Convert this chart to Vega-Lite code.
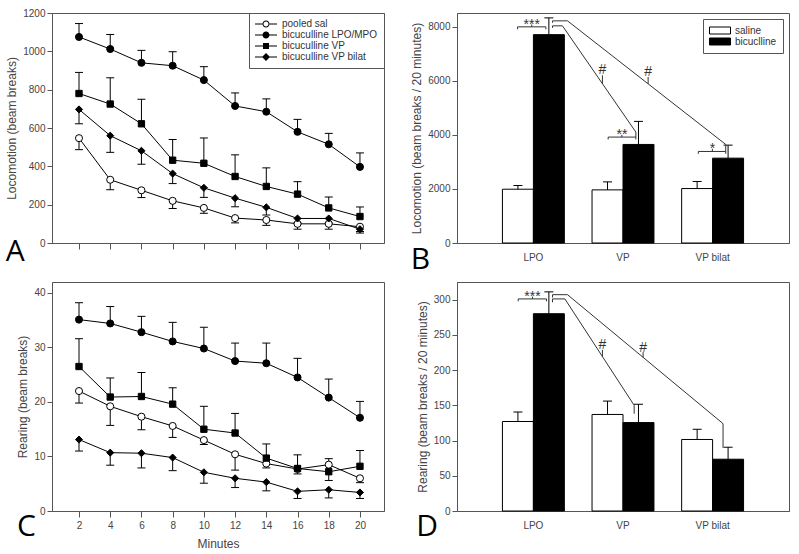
{
  "$schema": "https://vega.github.io/schema/vega-lite/v6.json",
  "background": "white",
  "padding": {"left": 5, "top": 7, "right": 5, "bottom": 0},
  "columns": 2,
  "spacing": {"row": 5, "column": 25},
  "resolve": {"scale": {"fill": "independent", "shape": "independent"}, "legend": {"fill": "independent", "shape": "independent"}},
  "datasets": {
    "loco": [
      {"minute": 2, "series": "pooled sal", "value": 547, "err": 487},
      {"minute": 4, "series": "pooled sal", "value": 330, "err": 278},
      {"minute": 6, "series": "pooled sal", "value": 275, "err": 237},
      {"minute": 8, "series": "pooled sal", "value": 220, "err": 180},
      {"minute": 10, "series": "pooled sal", "value": 183, "err": 155},
      {"minute": 12, "series": "pooled sal", "value": 130, "err": 105},
      {"minute": 14, "series": "pooled sal", "value": 120, "err": 92},
      {"minute": 16, "series": "pooled sal", "value": 100, "err": 72},
      {"minute": 18, "series": "pooled sal", "value": 100, "err": 72},
      {"minute": 20, "series": "pooled sal", "value": 85, "err": 60},
      {"minute": 2, "series": "bicuculline LPO/MPO", "value": 1075, "err": 1145},
      {"minute": 4, "series": "bicuculline LPO/MPO", "value": 1012, "err": 1088},
      {"minute": 6, "series": "bicuculline LPO/MPO", "value": 940, "err": 1005},
      {"minute": 8, "series": "bicuculline LPO/MPO", "value": 925, "err": 998},
      {"minute": 10, "series": "bicuculline LPO/MPO", "value": 850, "err": 920},
      {"minute": 12, "series": "bicuculline LPO/MPO", "value": 715, "err": 783},
      {"minute": 14, "series": "bicuculline LPO/MPO", "value": 685, "err": 752},
      {"minute": 16, "series": "bicuculline LPO/MPO", "value": 580, "err": 645},
      {"minute": 18, "series": "bicuculline LPO/MPO", "value": 515, "err": 572},
      {"minute": 20, "series": "bicuculline LPO/MPO", "value": 397, "err": 470},
      {"minute": 2, "series": "bicuculline VP", "value": 780, "err": 890},
      {"minute": 4, "series": "bicuculline VP", "value": 725, "err": 862},
      {"minute": 6, "series": "bicuculline VP", "value": 622, "err": 750},
      {"minute": 8, "series": "bicuculline VP", "value": 432, "err": 540},
      {"minute": 10, "series": "bicuculline VP", "value": 416, "err": 548},
      {"minute": 12, "series": "bicuculline VP", "value": 347, "err": 460},
      {"minute": 14, "series": "bicuculline VP", "value": 295, "err": 392},
      {"minute": 16, "series": "bicuculline VP", "value": 255, "err": 320},
      {"minute": 18, "series": "bicuculline VP", "value": 183, "err": 240},
      {"minute": 20, "series": "bicuculline VP", "value": 138, "err": 188},
      {"minute": 2, "series": "bicuculline VP bilat", "value": 697, "err": 622},
      {"minute": 4, "series": "bicuculline VP bilat", "value": 560, "err": 473},
      {"minute": 6, "series": "bicuculline VP bilat", "value": 481, "err": 411},
      {"minute": 8, "series": "bicuculline VP bilat", "value": 362, "err": 310},
      {"minute": 10, "series": "bicuculline VP bilat", "value": 288, "err": 238},
      {"minute": 12, "series": "bicuculline VP bilat", "value": 234, "err": 189},
      {"minute": 14, "series": "bicuculline VP bilat", "value": 186, "err": 146},
      {"minute": 16, "series": "bicuculline VP bilat", "value": 128, "err": 105},
      {"minute": 18, "series": "bicuculline VP bilat", "value": 128, "err": 105},
      {"minute": 20, "series": "bicuculline VP bilat", "value": 72, "err": 52}
    ],
    "rear": [
      {"minute": 2, "series": "pooled sal", "value": 22.0, "err": 19.8},
      {"minute": 4, "series": "pooled sal", "value": 19.2, "err": 15.7},
      {"minute": 6, "series": "pooled sal", "value": 17.3, "err": 14.9},
      {"minute": 8, "series": "pooled sal", "value": 15.6, "err": 13.5},
      {"minute": 10, "series": "pooled sal", "value": 13.0, "err": 12.2},
      {"minute": 12, "series": "pooled sal", "value": 10.4, "err": 7.5},
      {"minute": 14, "series": "pooled sal", "value": 8.7, "err": 7.9},
      {"minute": 16, "series": "pooled sal", "value": 7.7, "err": 6.8},
      {"minute": 18, "series": "pooled sal", "value": 8.5, "err": 5.6},
      {"minute": 20, "series": "pooled sal", "value": 6.0, "err": 5.2},
      {"minute": 2, "series": "bicuculline LPO/MPO", "value": 35.1, "err": 38.2},
      {"minute": 4, "series": "bicuculline LPO/MPO", "value": 34.4, "err": 37.5},
      {"minute": 6, "series": "bicuculline LPO/MPO", "value": 32.8, "err": 35.7},
      {"minute": 8, "series": "bicuculline LPO/MPO", "value": 31.1, "err": 34.6},
      {"minute": 10, "series": "bicuculline LPO/MPO", "value": 29.8, "err": 33.7},
      {"minute": 12, "series": "bicuculline LPO/MPO", "value": 27.5, "err": 30.8},
      {"minute": 14, "series": "bicuculline LPO/MPO", "value": 27.1, "err": 30.8},
      {"minute": 16, "series": "bicuculline LPO/MPO", "value": 24.5, "err": 28.0},
      {"minute": 18, "series": "bicuculline LPO/MPO", "value": 20.8, "err": 24.2},
      {"minute": 20, "series": "bicuculline LPO/MPO", "value": 17.1, "err": 20.1},
      {"minute": 2, "series": "bicuculline VP", "value": 26.5, "err": 31.6},
      {"minute": 4, "series": "bicuculline VP", "value": 20.9, "err": 24.4},
      {"minute": 6, "series": "bicuculline VP", "value": 21.0, "err": 25.4},
      {"minute": 8, "series": "bicuculline VP", "value": 19.6, "err": 22.6},
      {"minute": 10, "series": "bicuculline VP", "value": 15.0, "err": 19.2},
      {"minute": 12, "series": "bicuculline VP", "value": 14.3, "err": 17.9},
      {"minute": 14, "series": "bicuculline VP", "value": 9.7, "err": 12.3},
      {"minute": 16, "series": "bicuculline VP", "value": 7.8, "err": 10.3},
      {"minute": 18, "series": "bicuculline VP", "value": 7.2, "err": 9.6},
      {"minute": 20, "series": "bicuculline VP", "value": 8.2, "err": 11.1},
      {"minute": 2, "series": "bicuculline VP bilat", "value": 13.1, "err": 11.0},
      {"minute": 4, "series": "bicuculline VP bilat", "value": 10.7, "err": 8.4},
      {"minute": 6, "series": "bicuculline VP bilat", "value": 10.6, "err": 7.9},
      {"minute": 8, "series": "bicuculline VP bilat", "value": 9.8, "err": 7.4},
      {"minute": 10, "series": "bicuculline VP bilat", "value": 7.1, "err": 5.1},
      {"minute": 12, "series": "bicuculline VP bilat", "value": 6.0, "err": 4.3},
      {"minute": 14, "series": "bicuculline VP bilat", "value": 5.3, "err": 3.7},
      {"minute": 16, "series": "bicuculline VP bilat", "value": 3.6, "err": 2.3},
      {"minute": 18, "series": "bicuculline VP bilat", "value": 3.9, "err": 2.4},
      {"minute": 20, "series": "bicuculline VP bilat", "value": 3.4, "err": 2.3}
    ],
    "locoBars": [
      {"region": "LPO", "treatment": "saline", "mean": 1988, "err": 2123},
      {"region": "LPO", "treatment": "bicuclline", "mean": 7700, "err": 8320},
      {"region": "VP", "treatment": "saline", "mean": 1963, "err": 2259},
      {"region": "VP", "treatment": "bicuclline", "mean": 3642, "err": 4494},
      {"region": "VP bilat", "treatment": "saline", "mean": 2012, "err": 2272},
      {"region": "VP bilat", "treatment": "bicuclline", "mean": 3136, "err": 3617}
    ],
    "rearBars": [
      {"region": "LPO", "treatment": "saline", "mean": 127, "err": 140.5},
      {"region": "LPO", "treatment": "bicuclline", "mean": 280, "err": 311},
      {"region": "VP", "treatment": "saline", "mean": 137, "err": 156},
      {"region": "VP", "treatment": "bicuclline", "mean": 125.5, "err": 151.5},
      {"region": "VP bilat", "treatment": "saline", "mean": 101.5, "err": 116},
      {"region": "VP bilat", "treatment": "bicuclline", "mean": 73.5, "err": 90.5}
    ],
    "annB": [
      {"u1": 0.822, "v1": 7988, "u2": 1.138, "v2": 7988},
      {"u1": 0.822, "v1": 7988, "u2": 0.822, "v2": 7900},
      {"u1": 1.138, "v1": 7988, "u2": 1.138, "v2": 7900},
      {"u1": 0.98, "v1": 7988, "u2": 0.98, "v2": 8074},
      {"u1": 1.212, "v1": 8025, "u2": 1.212, "v2": 7950},
      {"u1": 1.212, "v1": 8025, "u2": 1.323, "v2": 8025},
      {"u1": 1.323, "v1": 8025, "u2": 2.142, "v2": 4099},
      {"u1": 2.142, "v1": 4099, "u2": 2.142, "v2": 3827},
      {"u1": 1.833, "v1": 3914, "u2": 2.142, "v2": 3914},
      {"u1": 1.833, "v1": 3914, "u2": 1.833, "v2": 3827},
      {"u1": 1.986, "v1": 3914, "u2": 1.986, "v2": 4000},
      {"u1": 1.212, "v1": 8210, "u2": 1.212, "v2": 8140},
      {"u1": 1.212, "v1": 8210, "u2": 1.379, "v2": 8210},
      {"u1": 1.379, "v1": 8210, "u2": 3.145, "v2": 3642},
      {"u1": 3.145, "v1": 3642, "u2": 3.145, "v2": 3296},
      {"u1": 2.839, "v1": 3383, "u2": 3.145, "v2": 3383},
      {"u1": 2.839, "v1": 3383, "u2": 2.839, "v2": 3296},
      {"u1": 2.996, "v1": 3383, "u2": 2.996, "v2": 3481},
      {"u1": 1.769, "v1": 5887, "u2": 1.769, "v2": 6198},
      {"u1": 2.279, "v1": 5883, "u2": 2.279, "v2": 6136}
    ],
    "annBText": [
      {"u": 0.98, "v": 7910, "label": "***"},
      {"u": 1.986, "v": 3860, "label": "**"},
      {"u": 2.996, "v": 3330, "label": "*"},
      {"u": 1.769, "v": 6241, "label": "#"},
      {"u": 2.279, "v": 6180, "label": "#"}
    ],
    "annD": [
      {"u1": 0.829, "v1": 301, "u2": 1.145, "v2": 301},
      {"u1": 0.829, "v1": 301, "u2": 0.829, "v2": 297.6},
      {"u1": 1.145, "v1": 301, "u2": 1.145, "v2": 297.6},
      {"u1": 0.989, "v1": 301, "u2": 0.989, "v2": 304.2},
      {"u1": 1.212, "v1": 301, "u2": 1.212, "v2": 296.2},
      {"u1": 1.212, "v1": 301, "u2": 1.35, "v2": 301},
      {"u1": 1.35, "v1": 301, "u2": 2.123, "v2": 150},
      {"u1": 2.123, "v1": 150, "u2": 2.123, "v2": 138},
      {"u1": 1.212, "v1": 307, "u2": 1.212, "v2": 303},
      {"u1": 1.212, "v1": 307, "u2": 1.379, "v2": 307},
      {"u1": 1.379, "v1": 307, "u2": 3.115, "v2": 124},
      {"u1": 3.115, "v1": 124, "u2": 3.115, "v2": 89.6},
      {"u1": 1.769, "v1": 219, "u2": 1.769, "v2": 228.8},
      {"u1": 2.223, "v1": 218, "u2": 2.223, "v2": 225.5}
    ],
    "annDText": [
      {"u": 0.989, "v": 297.7, "label": "***"},
      {"u": 1.769, "v": 229.6, "label": "#"},
      {"u": 2.223, "v": 225.2, "label": "#"}
    ]
  },
  "concat": [
    {
      "width": 332, "height": 230,
      "title": {"text": "A", "orient": "bottom", "anchor": "start", "frame": "bounds", "font": "Open Sans", "fontSize": 30, "fontWeight": "normal", "color": "black", "offset": 0, "dy": -13},
      "data": {"name": "loco"},
      "layer": [
        {"mark": {"type": "rule", "color": "black", "strokeWidth": 1},
         "encoding": {
           "x": {"field": "minute", "type": "quantitative", "scale": {"domain": [0.27, 21.54], "nice": false, "zero": false}, "axis": {"values": [2, 4, 6, 8, 10, 12, 14, 16, 18, 20], "tickCount": 20, "labels": false, "title": null, "tickSize": 6}},
           "y": {"field": "value", "type": "quantitative", "scale": {"domain": [0, 1200], "nice": false}, "axis": {"values": [0, 200, 400, 600, 800, 1000, 1200], "tickCount": 20, "format": "d", "title": "Locomotion (beam breaks)"}},
           "y2": {"field": "err"}}},
        {"mark": {"type": "tick", "orient": "horizontal", "color": "black", "size": 8, "thickness": 1, "opacity": 1},
         "encoding": {"x": {"field": "minute", "type": "quantitative"}, "y": {"field": "err", "type": "quantitative"}}},
        {"mark": {"type": "line", "color": "black", "strokeWidth": 1},
         "encoding": {"x": {"field": "minute", "type": "quantitative"}, "y": {"field": "value", "type": "quantitative"}, "detail": {"field": "series"}}},
        {"transform": [{"filter": "datum.series == 'pooled sal'"}],
         "mark": {"type": "point", "shape": "circle", "filled": true, "fill": "white", "stroke": "black", "strokeWidth": 1, "opacity": 1, "size": 50},
         "encoding": {"x": {"field": "minute", "type": "quantitative"}, "y": {"field": "value", "type": "quantitative"}}},
        {"transform": [{"filter": "datum.series == 'bicuculline LPO/MPO'"}],
         "mark": {"type": "point", "shape": "circle", "filled": true, "fill": "black", "stroke": "black", "strokeWidth": 1, "opacity": 1, "size": 50},
         "encoding": {"x": {"field": "minute", "type": "quantitative"}, "y": {"field": "value", "type": "quantitative"}}},
        {"transform": [{"filter": "datum.series == 'bicuculline VP'"}],
         "mark": {"type": "point", "shape": "square", "filled": true, "fill": "black", "stroke": "black", "strokeWidth": 1, "opacity": 1, "size": 40},
         "encoding": {"x": {"field": "minute", "type": "quantitative"}, "y": {"field": "value", "type": "quantitative"}}},
        {"transform": [{"filter": "datum.series == 'bicuculline VP bilat'"}],
         "mark": {"type": "point", "shape": "diamond", "filled": true, "fill": "black", "stroke": "black", "strokeWidth": 1, "opacity": 1, "size": 50},
         "encoding": {"x": {"field": "minute", "type": "quantitative"}, "y": {"field": "value", "type": "quantitative"}}},
        {"transform": [{"filter": "datum.series == 'none'"}],
         "mark": {"type": "point", "filled": true, "color": "black", "opacity": 1, "size": 100},
         "encoding": {
           "shape": {"field": "series", "type": "nominal", "scale": {"domain": ["pooled sal", "bicuculline LPO/MPO", "bicuculline VP", "bicuculline VP bilat"], "range": [
             "M-1,-0.1H0.5V0.1H-1Z M1.9,-0.1H3.4V0.1H1.9Z M0.5,0A0.7,0.7 0 1,1 1.9,0A0.7,0.7 0 1,1 0.5,0Z M0.7,0A0.5,0.5 0 1,0 1.7,0A0.5,0.5 0 1,0 0.7,0Z",
             "M-1,-0.1H3.4V0.1H-1Z M0.5,0A0.7,0.7 0 1,1 1.9,0A0.7,0.7 0 1,1 0.5,0Z",
             "M-1,-0.1H3.4V0.1H-1Z M0.6,-0.6H1.8V0.6H0.6Z",
             "M-1,-0.1H3.4V0.1H-1Z M1.2,-0.8L2,0L1.2,0.8L0.4,0Z"]},
             "legend": {"title": null, "orient": "top-right", "offset": 0, "padding": 6, "strokeColor": "#555", "fillColor": "white", "labelOffset": 17, "rowPadding": 1, "labelFontSize": 10, "labelColor": "#333", "labelFont": "Liberation Sans", "symbolFillColor": "black", "symbolStrokeWidth": 0, "symbolOpacity": 1}}}}
      ]
    },
    {
      "width": 332, "height": 230,
      "title": {"text": "B", "orient": "bottom", "anchor": "start", "frame": "bounds", "font": "Open Sans", "fontSize": 30, "fontWeight": "normal", "color": "black", "offset": 0, "dy": -17},
      "layer": [
        {"data": {"name": "locoBars"},
         "mark": {"type": "bar", "stroke": "black", "strokeWidth": 1},
         "encoding": {
           "x": {"field": "region", "type": "nominal", "sort": ["LPO", "VP", "VP bilat"], "scale": {"paddingInner": 0.309, "paddingOuter": 0.507}, "axis": {"title": null, "ticks": false, "labelAngle": 0, "labelPadding": 9}},
           "xOffset": {"field": "treatment", "type": "nominal", "sort": ["saline", "bicuclline"], "scale": {"paddingInner": 0, "paddingOuter": 0}},
           "y": {"field": "mean", "type": "quantitative", "scale": {"domain": [0, 8500], "nice": false}, "axis": {"values": [0, 2000, 4000, 6000, 8000], "tickCount": 20, "format": "d", "title": "Locomotion (beam breaks / 20 minutes)"}},
           "fill": {"field": "treatment", "type": "nominal", "scale": {"domain": ["saline", "bicuclline"], "range": ["white", "black"]},
             "legend": {"title": null, "orient": "top-right", "offset": 6, "padding": 6, "strokeColor": "#555", "fillColor": "white", "symbolType": "M-1,-0.7H3.2V0.7H-1Z", "symbolSize": 100, "symbolStrokeColor": "black", "symbolStrokeWidth": 1, "labelOffset": 15, "rowPadding": 0, "labelFontSize": 10, "labelColor": "#333", "labelFont": "Liberation Sans"}}}},
        {"data": {"name": "locoBars"},
         "mark": {"type": "rule", "color": "black", "strokeWidth": 1},
         "encoding": {
           "x": {"field": "region", "type": "nominal", "sort": ["LPO", "VP", "VP bilat"], "scale": {"paddingInner": 0.309, "paddingOuter": 0.507}, "axis": null},
           "xOffset": {"field": "treatment", "type": "nominal", "sort": ["saline", "bicuclline"], "scale": {"paddingInner": 0, "paddingOuter": 0}},
           "y": {"field": "mean", "type": "quantitative"},
           "y2": {"field": "err"}}},
        {"data": {"name": "locoBars"},
         "mark": {"type": "tick", "orient": "horizontal", "color": "black", "size": 9, "thickness": 1, "opacity": 1},
         "encoding": {
           "x": {"field": "region", "type": "nominal", "sort": ["LPO", "VP", "VP bilat"], "scale": {"paddingInner": 0.309, "paddingOuter": 0.507}, "axis": null},
           "xOffset": {"field": "treatment", "type": "nominal", "sort": ["saline", "bicuclline"], "scale": {"paddingInner": 0, "paddingOuter": 0}},
           "y": {"field": "err", "type": "quantitative"}}},
        {"data": {"name": "annB"},
         "mark": {"type": "rule", "color": "#333", "strokeWidth": 1},
         "encoding": {
           "x": {"field": "u1", "type": "quantitative", "scale": {"domain": [0.146, 3.851], "nice": false, "zero": false}, "axis": null},
           "x2": {"field": "u2"},
           "y": {"field": "v1", "type": "quantitative"},
           "y2": {"field": "v2"}}},
        {"data": {"name": "annBText"},
         "mark": {"type": "text", "font": "Liberation Sans", "fontSize": 14, "color": "#333", "baseline": "alphabetic", "align": "center"},
         "encoding": {
           "x": {"field": "u", "type": "quantitative", "scale": {"domain": [0.146, 3.851], "nice": false, "zero": false}, "axis": null},
           "y": {"field": "v", "type": "quantitative"},
           "text": {"field": "label"}}}
      ],
      "resolve": {"scale": {"x": "independent"}}
    },
    {
      "width": 332, "height": 229,
      "title": {"text": "C", "orient": "bottom", "anchor": "start", "frame": "bounds", "font": "Open Sans", "fontSize": 30, "fontWeight": "normal", "color": "black", "offset": 0, "dy": -37},
      "data": {"name": "rear"},
      "layer": [
        {"mark": {"type": "rule", "color": "black", "strokeWidth": 1},
         "encoding": {
           "x": {"field": "minute", "type": "quantitative", "scale": {"domain": [0.27, 21.54], "nice": false, "zero": false}, "axis": {"values": [2, 4, 6, 8, 10, 12, 14, 16, 18, 20], "tickCount": 20, "title": "Minutes", "tickSize": 6, "labelPadding": 3, "titlePadding": 8}},
           "y": {"field": "value", "type": "quantitative", "scale": {"domain": [0, 42], "nice": false}, "axis": {"values": [0, 10, 20, 30, 40], "tickCount": 20, "title": "Rearing (beam breaks)"}},
           "y2": {"field": "err"}}},
        {"mark": {"type": "tick", "orient": "horizontal", "color": "black", "size": 8, "thickness": 1, "opacity": 1},
         "encoding": {"x": {"field": "minute", "type": "quantitative"}, "y": {"field": "err", "type": "quantitative"}}},
        {"mark": {"type": "line", "color": "black", "strokeWidth": 1},
         "encoding": {"x": {"field": "minute", "type": "quantitative"}, "y": {"field": "value", "type": "quantitative"}, "detail": {"field": "series"}}},
        {"transform": [{"filter": "datum.series == 'pooled sal'"}],
         "mark": {"type": "point", "shape": "circle", "filled": true, "fill": "white", "stroke": "black", "strokeWidth": 1, "opacity": 1, "size": 50},
         "encoding": {"x": {"field": "minute", "type": "quantitative"}, "y": {"field": "value", "type": "quantitative"}}},
        {"transform": [{"filter": "datum.series == 'bicuculline LPO/MPO'"}],
         "mark": {"type": "point", "shape": "circle", "filled": true, "fill": "black", "stroke": "black", "strokeWidth": 1, "opacity": 1, "size": 50},
         "encoding": {"x": {"field": "minute", "type": "quantitative"}, "y": {"field": "value", "type": "quantitative"}}},
        {"transform": [{"filter": "datum.series == 'bicuculline VP'"}],
         "mark": {"type": "point", "shape": "square", "filled": true, "fill": "black", "stroke": "black", "strokeWidth": 1, "opacity": 1, "size": 40},
         "encoding": {"x": {"field": "minute", "type": "quantitative"}, "y": {"field": "value", "type": "quantitative"}}},
        {"transform": [{"filter": "datum.series == 'bicuculline VP bilat'"}],
         "mark": {"type": "point", "shape": "diamond", "filled": true, "fill": "black", "stroke": "black", "strokeWidth": 1, "opacity": 1, "size": 50},
         "encoding": {"x": {"field": "minute", "type": "quantitative"}, "y": {"field": "value", "type": "quantitative"}}}
      ]
    },
    {
      "width": 332, "height": 229,
      "title": {"text": "D", "orient": "bottom", "anchor": "start", "frame": "bounds", "font": "Open Sans", "fontSize": 30, "fontWeight": "normal", "color": "black", "offset": 0, "dy": -18},
      "layer": [
        {"data": {"name": "rearBars"},
         "mark": {"type": "bar", "stroke": "black", "strokeWidth": 1},
         "encoding": {
           "x": {"field": "region", "type": "nominal", "sort": ["LPO", "VP", "VP bilat"], "scale": {"paddingInner": 0.309, "paddingOuter": 0.507}, "axis": {"title": null, "ticks": false, "labelAngle": 0, "labelPadding": 9}},
           "xOffset": {"field": "treatment", "type": "nominal", "sort": ["saline", "bicuclline"], "scale": {"paddingInner": 0, "paddingOuter": 0}},
           "y": {"field": "mean", "type": "quantitative", "scale": {"domain": [0, 325], "nice": false}, "axis": {"values": [0, 50, 100, 150, 200, 250, 300], "tickCount": 20, "title": "Rearing (beam breaks / 20 minutes)"}},
           "fill": {"field": "treatment", "type": "nominal", "scale": {"domain": ["saline", "bicuclline"], "range": ["white", "black"]}, "legend": null}}},
        {"data": {"name": "rearBars"},
         "mark": {"type": "rule", "color": "black", "strokeWidth": 1},
         "encoding": {
           "x": {"field": "region", "type": "nominal", "sort": ["LPO", "VP", "VP bilat"], "scale": {"paddingInner": 0.309, "paddingOuter": 0.507}, "axis": null},
           "xOffset": {"field": "treatment", "type": "nominal", "sort": ["saline", "bicuclline"], "scale": {"paddingInner": 0, "paddingOuter": 0}},
           "y": {"field": "mean", "type": "quantitative"},
           "y2": {"field": "err"}}},
        {"data": {"name": "rearBars"},
         "mark": {"type": "tick", "orient": "horizontal", "color": "black", "size": 9, "thickness": 1, "opacity": 1},
         "encoding": {
           "x": {"field": "region", "type": "nominal", "sort": ["LPO", "VP", "VP bilat"], "scale": {"paddingInner": 0.309, "paddingOuter": 0.507}, "axis": null},
           "xOffset": {"field": "treatment", "type": "nominal", "sort": ["saline", "bicuclline"], "scale": {"paddingInner": 0, "paddingOuter": 0}},
           "y": {"field": "err", "type": "quantitative"}}},
        {"data": {"name": "annD"},
         "mark": {"type": "rule", "color": "#333", "strokeWidth": 1},
         "encoding": {
           "x": {"field": "u1", "type": "quantitative", "scale": {"domain": [0.146, 3.851], "nice": false, "zero": false}, "axis": null},
           "x2": {"field": "u2"},
           "y": {"field": "v1", "type": "quantitative"},
           "y2": {"field": "v2"}}},
        {"data": {"name": "annDText"},
         "mark": {"type": "text", "font": "Liberation Sans", "fontSize": 14, "color": "#333", "baseline": "alphabetic", "align": "center"},
         "encoding": {
           "x": {"field": "u", "type": "quantitative", "scale": {"domain": [0.146, 3.851], "nice": false, "zero": false}, "axis": null},
           "y": {"field": "v", "type": "quantitative"},
           "text": {"field": "label"}}}
      ],
      "resolve": {"scale": {"x": "independent"}}
    }
  ],
  "config": {
    "view": {"stroke": "#555", "strokeWidth": 1},
    "axis": {"domainColor": "#555", "tickColor": "#555", "labelColor": "#444", "titleColor": "#444", "labelFont": "Liberation Sans", "titleFont": "Liberation Sans", "labelFontSize": 10, "titleFontSize": 12, "titleFontWeight": "normal", "grid": false, "tickSize": 5, "labelPadding": 2, "titlePadding": 4, "labelOverlap": false},
    "legend": {"labelFont": "Liberation Sans"}
  }
}
